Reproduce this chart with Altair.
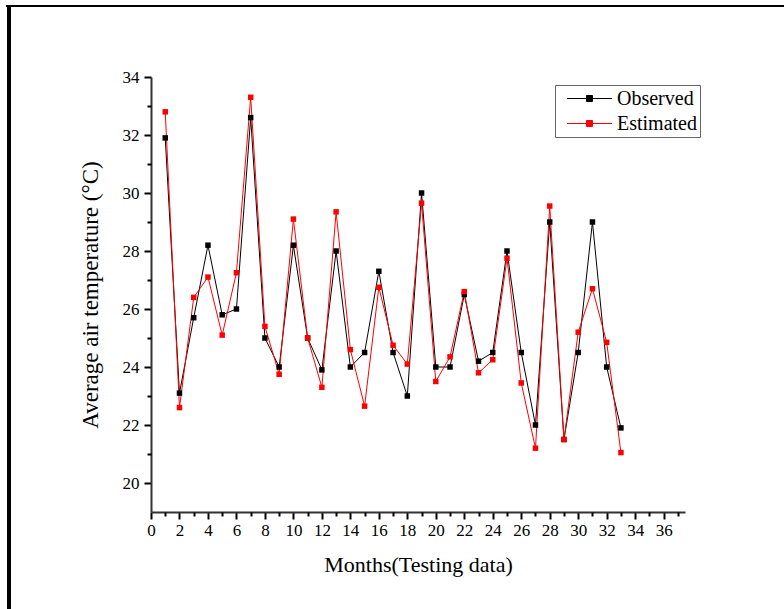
import altair as alt
import pandas as pd

# Monthly average air temperature, testing period
months = list(range(1, 34))
observed = [31.9, 23.1, 25.7, 28.2, 25.8, 26.0, 32.6, 25.0, 24.0, 28.2,
            25.0, 23.9, 28.0, 24.0, 24.5, 27.3, 24.5, 23.0, 30.0, 24.0,
            24.0, 26.5, 24.2, 24.5, 28.0, 24.5, 22.0, 29.0, 21.5, 24.5,
            29.0, 24.0, 21.9]
estimated = [32.8, 22.6, 26.4, 27.1, 25.1, 27.25, 33.3, 25.4, 23.75, 29.1,
             25.0, 23.3, 29.35, 24.6, 22.65, 26.75, 24.75, 24.1, 29.65, 23.5,
             24.35, 26.6, 23.8, 24.25, 27.75, 23.45, 21.2, 29.55, 21.5, 25.2,
             26.7, 24.85, 21.05]
series_names = ["Observed", "Estimated"]
series_colors = ["black", "red"]

x_major = list(range(0, 37, 2))
x_minor = list(range(1, 38, 2))
y_major = list(range(20, 35, 2))
y_minor = list(range(21, 34, 2))

df = pd.DataFrame({
    "month": months * 2,
    "temp": observed + estimated,
    "series": ["Observed"] * len(months) + ["Estimated"] * len(months),
})

FONT = "Liberation Serif"
W, H = 534, 435

xscale = alt.Scale(domain=[0, 37.5], nice=False, zero=False)
yscale = alt.Scale(domain=[19, 34], nice=False, zero=False)
cscale = alt.Scale(domain=series_names, range=series_colors)

x_axis = alt.Axis(values=x_major, orient="bottom", title="Months(Testing data)",
                  tickSize=7, tickWidth=2, tickColor="black",
                  domainColor="#333333", domainWidth=2, labelFont=FONT,
                  labelFontSize=17, labelColor="black", labelPadding=3,
                  titleFont=FONT, titleFontSize=22, titleFontWeight="normal",
                  titleColor="black", titlePadding=16, grid=False,
                  labelFlush=False, format="d")
y_axis = alt.Axis(values=y_major, orient="left",
                  title="Average air temperature (°C)",
                  tickSize=7, tickWidth=2, tickColor="black",
                  domainColor="#333333", domainWidth=2, labelFont=FONT,
                  labelFontSize=17, labelColor="black", labelPadding=5,
                  titleFont=FONT, titleFontSize=23, titleFontWeight="normal",
                  titleColor="black", titlePadding=20, grid=False,
                  labelFlush=False, format="d")

legend = alt.Legend(
    title=None, orient="none", legendX=404, legendY=8,
    symbolType="M-2.25,0L2.25,0M-0.3,-0.3L0.3,-0.3L0.3,0.3L-0.3,0.3Z",
    symbolSize=400, symbolStrokeWidth=1, symbolOffset=21,
    labelFont=FONT, labelFontSize=20, labelColor="black", labelLimit=200,
    labelOffset=17, rowPadding=4, padding=3,
    strokeColor="#666666", fillColor="white",
)

lines = alt.Chart(df).mark_line(strokeWidth=1).encode(
    x=alt.X("month:Q", scale=xscale, axis=x_axis),
    y=alt.Y("temp:Q", scale=yscale, axis=y_axis),
    color=alt.Color("series:N", scale=cscale, sort=series_names, legend=legend),
    detail="series:N",
)

points = alt.Chart(df).mark_square(size=30, opacity=1, filled=True).encode(
    x=alt.X("month:Q", scale=xscale, axis=None),
    y=alt.Y("temp:Q", scale=yscale, axis=None),
    color=alt.Color("series:N", scale=cscale, sort=series_names, legend=None),
)

# minor tick marks on both axes
minor = alt.Chart(df).mark_point(opacity=0).encode(
    x=alt.X("month:Q", scale=xscale,
            axis=alt.Axis(values=x_minor, orient="bottom", labels=False,
                          title=None, domain=False, tickSize=4, tickWidth=2,
                          tickColor="black", grid=False)),
    y=alt.Y("temp:Q", scale=yscale,
            axis=alt.Axis(values=y_minor, orient="left", labels=False,
                          title=None, domain=False, tickSize=4, tickWidth=2,
                          tickColor="black", grid=False)),
)

# page frame: top and left edges
frame_top = alt.Chart(df).mark_rule(color="black", strokeWidth=2).encode(
    x=alt.value(-145), x2=alt.value(640), y=alt.value(-71))
frame_left = alt.Chart(df).mark_rule(color="black", strokeWidth=3).encode(
    x=alt.value(-142), y=alt.value(-71), y2=alt.value(540))

chart = alt.layer(lines, minor, points, frame_top, frame_left).resolve_axis(
    x="independent", y="independent"
).properties(
    width=W, height=H,
    padding={"left": 151, "top": 77, "right": 99, "bottom": 97},
    autosize=alt.AutoSizeParams(type="none"),
    background="white",
).configure_view(stroke=None)

chart.save("out.html", embed_options={"renderer": "svg", "actions": False})
